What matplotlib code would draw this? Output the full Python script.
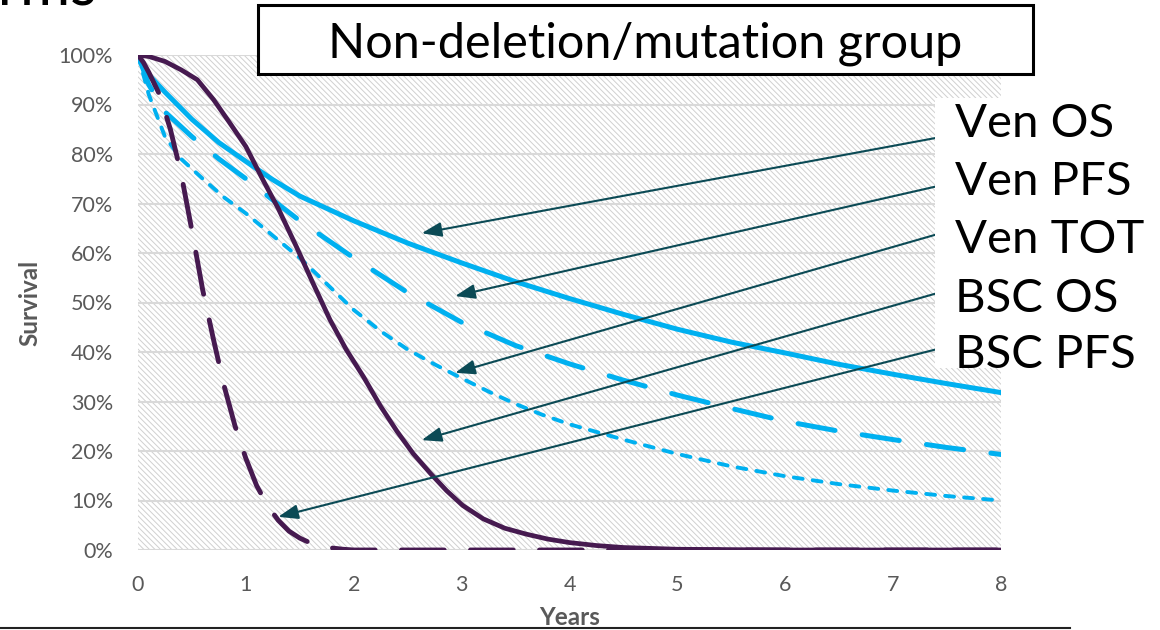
import matplotlib.pyplot as plt
from matplotlib.patches import Rectangle
from matplotlib.lines import Line2D

plt.rcParams['font.family'] = 'Lato'
plt.rcParams['hatch.linewidth'] = 0.7

# survival curves (years, % surviving)
ven_os_t = [0, 0.1, 0.25, 0.5, 0.75, 1, 1.25, 1.5, 2, 2.5, 3, 3.5, 4, 4.5, 5, 5.5, 6, 6.5, 7, 7.5, 8]
ven_os = [100, 96, 92.5, 87, 82.3, 78.5, 74.8, 71.5, 66.5, 62, 58, 54.2, 50.8, 47.6, 44.6, 42, 39.8, 37.5, 35.5, 33.6, 31.8]

ven_pfs_t = [0, 0.1, 0.25, 0.5, 0.75, 1, 1.25, 1.5, 2, 2.5, 3, 3.5, 4, 4.5, 5, 5.5, 6, 6.5, 7, 7.5, 8]
ven_pfs = [100, 94, 88.5, 83.5, 79, 75, 70.7, 66.5, 59, 52, 46, 41.3, 37.6, 34.3, 31.3, 28.6, 26, 24, 22.3, 20.7, 19.3]

ven_tot_t = [0, 0.1, 0.25, 0.4, 0.6, 0.8, 1, 1.25, 1.5, 2, 2.25, 2.5, 2.75, 3, 3.25, 3.5, 3.75, 4, 4.5, 5, 5.5, 6, 6.5, 7, 7.5, 8]
ven_tot = [100, 92, 83.5, 79, 75, 71.2, 68, 63.5, 59, 48.5, 44.2, 40.5, 37.5, 34.7, 32, 29.5, 27.3, 25.4, 22.3, 19.4, 16.9, 14.9, 13.3, 12, 10.9, 10]

bsc_os_t = [0, 0.1, 0.25, 0.4, 0.55, 0.7, 0.85, 1, 1.16, 1.3, 1.47, 1.62, 1.78, 1.93, 2.09, 2.25,
            2.4, 2.55, 2.71, 2.86, 3.01, 3.2, 3.4, 3.6, 3.8, 4, 4.25, 4.5, 5, 6, 7, 8]
bsc_os = [100, 99.7, 98.7, 97, 95, 91, 86.3, 81.5, 74.7, 69, 61.2, 54, 46.5, 40.5, 35, 29,
          24, 19.5, 15.5, 12, 9, 6.3, 4.4, 3.2, 2.2, 1.5, 0.9, 0.5, 0.15, 0, 0, 0]

bsc_pfs_t = [0, 0.05, 0.1, 0.2, 0.3, 0.4, 0.5, 0.6, 0.7, 0.8, 0.9, 1, 1.1, 1.2, 1.3, 1.4, 1.5,
             1.6, 1.7, 1.8, 1.9, 2, 3, 4, 5, 6, 7, 8]
bsc_pfs = [100, 98.5, 96.5, 92, 85, 76, 64.5, 52.5, 42.5, 33, 25, 18.5, 13, 9, 6, 3.8, 2.4,
           1.4, 0.8, 0.4, 0.15, 0, 0, 0, 0, 0, 0, 0]

labels = ['Ven OS', 'Ven PFS', 'Ven TOT', 'BSC OS', 'BSC PFS']
# where each arrow points (years, %)
arrow_tips = [(2.63, 64.0), (2.94, 51.3), (2.94, 35.8), (2.63, 22.2), (1.30, 6.7)]
arrow_tails = [(7.41, 83.3), (7.41, 73.5), (7.41, 63.8), (7.41, 51.9), (7.41, 40.6)]

BLUE = '#00B0F0'
PURPLE = '#461A50'
TEAL = '#0B4A55'
GREY = '#595959'

W, H = 1160, 630
fig = plt.figure(figsize=(W / 100, H / 100), dpi=100)
ax = fig.add_axes([138 / W, 80 / H, 863 / W, 495 / H])

# hatched plot background
ax.add_patch(Rectangle((0, 0), 1, 1, transform=ax.transAxes, facecolor='white',
                       edgecolor='#d0d0d0', hatch='\\\\\\\\\\\\', lw=0, zorder=0.1))
ax.set_axisbelow(True)
ax.yaxis.grid(True, color='#d9d9d9', lw=1.5)
for sp in ax.spines.values():
    sp.set_visible(False)

ax.plot(ven_os_t, ven_os, color=BLUE, lw=3.6, solid_capstyle='round', solid_joinstyle='round', zorder=3)
ax.plot(ven_pfs_t, ven_pfs, color=BLUE, lw=3.6, dashes=(7.5, 5.5), dash_capstyle='round', zorder=3)
ax.plot(ven_tot_t, ven_tot, color=BLUE, lw=2.8, dashes=(2.3, 2.6), dash_capstyle='round', zorder=3)
ax.plot(bsc_pfs_t, bsc_pfs, color=PURPLE, lw=3.5, dashes=(8.8, 5.4), dash_capstyle='round', zorder=4)
ax.plot(bsc_os_t, bsc_os, color=PURPLE, lw=3.4, solid_capstyle='round', solid_joinstyle='round', zorder=4)

for tip, tail in zip(arrow_tips, arrow_tails):
    ax.annotate('', xy=tip, xytext=tail,
                arrowprops=dict(arrowstyle='-|>,head_length=0.6,head_width=0.22',
                                color=TEAL, lw=1.5, mutation_scale=20,
                                shrinkA=0, shrinkB=0), zorder=5)

ax.set_xlim(0, 8)
ax.set_ylim(0, 100)
ax.set_xticks(range(0, 9))
ax.set_yticks(range(0, 101, 10))
ax.set_yticklabels([f'{v}%' for v in range(0, 101, 10)])
ax.tick_params(length=0, labelsize=15.5, labelcolor=GREY)
ax.tick_params(axis='y', pad=18)
ax.tick_params(axis='x', pad=18)
ax.set_xlabel('Years', fontsize=17.5, fontweight='bold', color=GREY, labelpad=8)

fig.text(30 / W, 1 - 303 / H, 'Survival', rotation=90, ha='center', va='center',
         fontsize=17.5, fontweight='bold', color=GREY)

# title box
fig.patches.append(Rectangle((258 / W, 1 - 74 / H), 775 / W, 69 / H, transform=fig.transFigure,
                             facecolor='white', edgecolor='black', lw=2.2, zorder=2))
fig.text(645.5 / W, 1 - 57 / H, 'Non-deletion/mutation group', ha='center', va='baseline',
         fontsize=35, color='black', zorder=3)

# label panel on the right
fig.patches.append(Rectangle((935 / W, 1 - 368 / H), 230 / W, 270 / H, transform=fig.transFigure,
                             facecolor='white', edgecolor='none', zorder=2))
baselines = [136.7, 195, 253, 312, 368]
for lab, yb in zip(labels, baselines):
    fig.text(955 / W, 1 - yb / H, lab, ha='left', va='baseline', fontsize=34, color='black', zorder=3)

# bits of the slide around the chart
fig.text(97 / W, 1 - 6 / H, 'orms', ha='right', va='baseline', fontsize=44, color='black')
fig.lines.append(Line2D([0, 1070 / W], [2 / H, 2 / H], transform=fig.transFigure, color='#222222', lw=1.5))

fig.savefig('out.png', dpi=100)
